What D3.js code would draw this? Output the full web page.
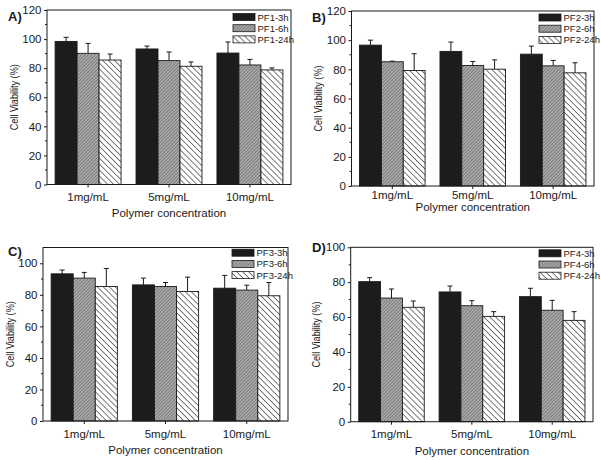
<!DOCTYPE html>
<html><head><meta charset="utf-8">
<script src="https://cdn.jsdelivr.net/npm/d3@7/dist/d3.min.js"></script>
<style>body{margin:0;background:#fff}svg{display:block}text{font-family:"Liberation Sans",Arial,sans-serif;fill:#1a1a1a}</style>
</head><body><svg id="c" width="601" height="460"></svg>
<script>
// ---- data ----
const categories = ["1mg/mL", "5mg/mL", "10mg/mL"];
const panelLabels = ["A)", "B)", "C)", "D)"];
const seriesA = ["PF1-3h", "PF1-6h", "PF1-24h"];
const seriesB = ["PF2-3h", "PF2-6h", "PF2-24h"];
const seriesC = ["PF3-3h", "PF3-6h", "PF3-24h"];
const seriesD = ["PF4-3h", "PF4-6h", "PF4-24h"];
// mean values [3h, 6h, 24h] per concentration
const valuesA = [[98.4, 93.2, 90.4], [90.2, 85.2, 82.2], [85.6, 81.3, 78.8]];
const errorsA = [[2.8, 2.0, 7.6], [6.8, 5.9, 3.8], [4.1, 3.0, 1.4]];
const valuesB = [[96.6, 92.3, 90.4], [85.2, 82.6, 82.4], [79.2, 80.1, 77.6]];
const errorsB = [[3.4, 6.4, 5.5], [0.4, 2.8, 3.7], [11.5, 6.4, 6.9]];
const valuesC = [[93.3, 86.3, 84.2], [90.6, 85.3, 83.0], [85.3, 82.1, 79.4]];
const errorsC = [[2.4, 4.3, 8.1], [3.6, 2.5, 3.1], [11.4, 9.1, 8.4]];
const valuesD = [[80.3, 74.4, 71.7], [70.9, 66.5, 63.9], [65.6, 60.4, 58.1]];
const errorsD = [[2.3, 3.4, 4.8], [5.2, 2.9, 5.7], [3.6, 2.7, 5.0]];
const yTicksA = [0, 20, 40, 60, 80, 100, 120];
const yTicksB = [0, 20, 40, 60, 80, 100, 120];
const yTicksC = [0, 20, 40, 60, 80, 100];
const yTicksD = [0, 20, 40, 60, 80, 100];
const yMax = [120, 120, 110, 100];
const xTitle = "Polymer concentration";
const yTitle = "Cell Viability (%)";

// ---- layout ----
const layout = [
  {l: 47, r: 291, t: 10, b: 184.5, lab: [8, 21], xl: 12.5, xt: 28, yl: 14, lg: [233, 17]},
  {l: 351.5, r: 594, t: 11, b: 186, lab: [312, 22], xl: 8.5, xt: 20.5, yl: 318, lg: [539, 17.5]},
  {l: 43, r: 288, t: 247.5, b: 421, lab: [8, 256], xl: 13, xt: 29, yl: 9.5, lg: [232, 252.7]},
  {l: 350.7, r: 593, t: 247.3, b: 421.7, lab: [312, 252], xl: 12.5, xt: 29, yl: 316, lg: [539, 253.3]}
];
const panels = [
  {series: seriesA, values: valuesA, errors: errorsA, ticks: yTicksA},
  {series: seriesB, values: valuesB, errors: errorsB, ticks: yTicksB},
  {series: seriesC, values: valuesC, errors: errorsC, ticks: yTicksC},
  {series: seriesD, values: valuesD, errors: errorsD, ticks: yTicksD}
];

const svg = d3.select("#c");
const defs = svg.append("defs");
// gray fine crosshatch
const pg = defs.append("pattern").attr("id", "gray").attr("patternUnits", "userSpaceOnUse")
  .attr("width", 2.4).attr("height", 2.4).attr("patternTransform", "rotate(45)");
pg.append("rect").attr("width", 2.4).attr("height", 2.4).attr("fill", "#a8a8a8");
pg.append("line").attr("x1", 0).attr("y1", 0).attr("x2", 0).attr("y2", 2.4).attr("stroke", "#5a5a5a").attr("stroke-width", 1);
// white with backslash hatch
const ph = defs.append("pattern").attr("id", "hatch").attr("patternUnits", "userSpaceOnUse")
  .attr("width", 4.2).attr("height", 4.2).attr("patternTransform", "rotate(-45)");
ph.append("rect").attr("width", 4.2).attr("height", 4.2).attr("fill", "#fff");
ph.append("line").attr("x1", 0).attr("y1", 0).attr("x2", 0).attr("y2", 4.2).attr("stroke", "#222").attr("stroke-width", 1.2);
const fills = ["#1c1c1c", "url(#gray)", "url(#hatch)"];
const ink = "#1a1a1a";

panels.forEach((p, pi) => {
  const L = layout[pi];
  const g = svg.append("g");
  const x = d3.scaleBand().domain(categories).range([L.l, L.r]).paddingInner(0.185).paddingOuter(0.1);
  const xs = d3.scaleBand().domain(p.series).range([0, x.bandwidth()]);
  const y = d3.scaleLinear().domain([0, yMax[pi]]).range([L.b, L.t]);

  // bars
  p.series.forEach((s, si) => {
    categories.forEach((c, ci) => {
      const v = p.values[si][ci], e = p.errors[si][ci];
      const bx = x(c) + xs(s), bw = xs.bandwidth(), cx = bx + bw / 2;
      // error bar (upper only)
      g.append("line").attr("x1", cx).attr("x2", cx).attr("y1", y(v)).attr("y2", y(v + e))
        .attr("stroke", ink).attr("stroke-width", 1);
      g.append("line").attr("x1", cx - 2.5).attr("x2", cx + 2.5).attr("y1", y(v + e)).attr("y2", y(v + e))
        .attr("stroke", ink).attr("stroke-width", 1);
      g.append("rect").attr("x", bx).attr("y", y(v)).attr("width", bw).attr("height", y(0) - y(v))
        .attr("fill", fills[si]).attr("stroke", ink).attr("stroke-width", 0.9);
    });
  });

  // frame
  g.append("rect").attr("x", L.l).attr("y", L.t).attr("width", L.r - L.l).attr("height", L.b - L.t)
    .attr("fill", "none").attr("stroke", ink).attr("stroke-width", 1);

  // y axis
  const ya = g.append("g").attr("transform", `translate(${L.l},0)`)
    .call(d3.axisLeft(y).tickValues(p.ticks).tickSize(3).tickPadding(2.5));
  ya.select(".domain").remove();
  ya.selectAll("line").attr("stroke", ink);
  ya.selectAll("text").attr("font-size", 11.5).style("font-family", '"Liberation Sans",Arial,sans-serif').attr("fill", ink);
  const minor = d3.range(10, yMax[pi], 20);
  g.selectAll(null).data(minor).enter().append("line")
    .attr("x1", L.l - 2).attr("x2", L.l).attr("y1", d => y(d)).attr("y2", d => y(d)).attr("stroke", ink);

  // x axis
  const xa = g.append("g").attr("transform", `translate(0,${L.b})`)
    .call(d3.axisBottom(x).tickSize(3).tickFormat(() => ""));
  xa.select(".domain").remove();
  xa.selectAll("line").attr("stroke", ink);
  g.selectAll(null).data(categories).enter().append("text")
    .attr("x", d => x(d) + x.bandwidth() / 2).attr("y", L.b + L.xl)
    .attr("dominant-baseline", "central").attr("text-anchor", "middle")
    .attr("font-size", 11.5).text(d => d);

  // titles
  g.append("text").attr("x", (L.l + L.r) / 2).attr("y", L.b + L.xt).attr("dominant-baseline", "central")
    .attr("text-anchor", "middle").attr("font-size", 11.5).text(xTitle);
  g.append("text").attr("transform", `translate(${L.yl},${(L.t + L.b) / 2}) rotate(-90)`)
    .attr("dominant-baseline", "central").attr("text-anchor", "middle").attr("font-size", 11)
    .attr("textLength", 66).attr("lengthAdjust", "spacingAndGlyphs").text(yTitle);
  g.append("text").attr("x", L.lab[0]).attr("y", L.lab[1]).attr("font-size", 13).attr("font-weight", "bold").text(panelLabels[pi]);

  // legend
  p.series.forEach((s, si) => {
    const ly = L.lg[1] + si * 11.2;
    g.append("rect").attr("x", L.lg[0]).attr("y", ly - 3.5).attr("width", 22).attr("height", 7)
      .attr("fill", fills[si]).attr("stroke", ink).attr("stroke-width", 0.8);
    g.append("text").attr("x", L.lg[0] + 24.5).attr("y", ly).attr("dominant-baseline", "central")
      .attr("font-size", 9.5).text(s);
  });
});
</script></body></html>
